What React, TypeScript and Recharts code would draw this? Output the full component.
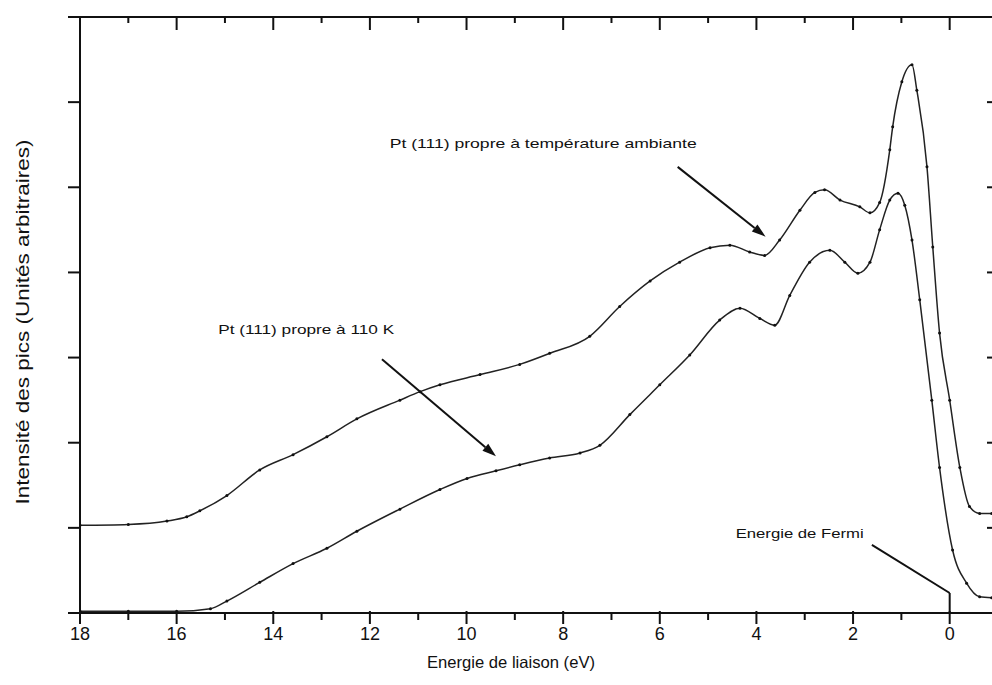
import React from 'react';
import { LineChart, Line, XAxis, YAxis, ReferenceLine, ReferenceDot } from 'recharts';

// Pt(111) clean, room temperature (upper curve)
const energyRT = [18, 17, 16.2, 15.79, 15.52, 14.96, 14.28, 13.59, 12.89, 12.27, 11.38, 10.96, 10.55, 9.72, 8.9, 8.28, 7.45, 6.83, 6.2, 5.59, 4.96, 4.55, 4.14, 3.83, 3.52, 3.1, 2.79, 2.59, 2.27, 1.86, 1.65, 1.45, 1.24, 1.18, 0.99, 0.78, 0.68, 0.47, 0.35, 0.21, 0.0, -0.21, -0.41, -0.62, -0.87];
const intensityRT = [1.03, 1.04, 1.08, 1.13, 1.2, 1.38, 1.68, 1.86, 2.07, 2.28, 2.5, 2.6, 2.68, 2.8, 2.92, 3.05, 3.25, 3.6, 3.9, 4.12, 4.29, 4.32, 4.24, 4.2, 4.38, 4.73, 4.94, 4.97, 4.85, 4.77, 4.7, 4.82, 5.44, 5.71, 6.24, 6.44, 6.14, 5.24, 4.3, 3.29, 2.5, 1.71, 1.25, 1.17, 1.17];

// Pt(111) clean, 110 K (lower curve)
const energyLT = [18, 17, 16, 15.3, 14.96, 14.28, 13.59, 12.89, 12.27, 11.38, 10.55, 9.99, 9.39, 8.9, 8.28, 7.65, 7.24, 6.62, 6.0, 5.38, 4.76, 4.34, 3.93, 3.62, 3.31, 2.9, 2.48, 2.17, 1.9, 1.65, 1.45, 1.24, 1.07, 0.93, 0.78, 0.62, 0.37, 0.21, -0.06, -0.35, -0.62, -0.87];
const intensityLT = [0.02, 0.02, 0.02, 0.05, 0.14, 0.36, 0.58, 0.76, 0.96, 1.22, 1.45, 1.58, 1.67, 1.74, 1.82, 1.88, 1.97, 2.33, 2.68, 3.03, 3.44, 3.58, 3.46, 3.38, 3.73, 4.12, 4.26, 4.12, 3.99, 4.12, 4.5, 4.85, 4.93, 4.79, 4.38, 3.68, 2.5, 1.71, 0.74, 0.35, 0.19, 0.18];

const xTicks = [18, 17, 16, 15, 14, 13, 12, 11, 10, 9, 8, 7, 6, 5, 4, 3, 2, 1, 0];
const yTicks = [0, 1, 2, 3, 4, 5, 6, 7];

const rtData = energyRT.map((e, i) => ({ e, v: intensityRT[i] }));
const ltData = energyLT.map((e, i) => ({ e, v: intensityLT[i] }));

const FONT = '"Liberation Sans", Arial, sans-serif';
const INK = '#111';

// annotation arrows, in data coordinates (energy, intensity)
const arrows = [
  { from: { x: 5.63, y: 5.24 }, to: { x: 3.81, y: 4.42 } },
  { from: { x: 11.75, y: 2.98 }, to: { x: 9.39, y: 1.84 } },
];
const fermiPath = [
  { from: { x: 1.61, y: 0.8 }, to: { x: 0, y: 0.235 } },
  { from: { x: 0, y: 0.235 }, to: { x: 0, y: 0 } },
];
const notes = [
  { x: 11.59, y: 5.46, text: 'Pt (111) propre à température ambiante', len: 307 },
  { x: 15.14, y: 3.28, text: 'Pt (111) propre à 110 K', len: 176 },
  { x: 4.43, y: 0.88, text: 'Energie de Fermi', len: 128 },
];

const ArrowShape = (props: any) => {
  const { x1, y1, x2, y2 } = props;
  const ang = Math.atan2(y2 - y1, x2 - x1);
  const len = 14;
  const w = 4.5;
  const bx = x2 - len * Math.cos(ang);
  const by = y2 - len * Math.sin(ang);
  const p1 = `${bx + w * Math.sin(ang)},${by - w * Math.cos(ang)}`;
  const p2 = `${bx - w * Math.sin(ang)},${by + w * Math.cos(ang)}`;
  return (
    <g>
      <line x1={x1} y1={y1} x2={bx} y2={by} stroke={INK} strokeWidth={2} />
      <polygon points={`${x2},${y2} ${p1} ${p2}`} fill={INK} />
    </g>
  );
};

const PlainLine = (props: any) => (
  <line x1={props.x1} y1={props.y1} x2={props.x2} y2={props.y2} stroke={INK} strokeWidth={2} />
);

const BottomTick = (props: any) => {
  const { x, y, payload } = props;
  const major = payload.value % 2 === 0;
  return (
    <g>
      <line x1={x} y1={y - (major ? 2 : 0)} x2={x} y2={y + (major ? 11 : 7)} stroke={INK} strokeWidth={2} />
      {major && (
        <text x={x} y={y + 27} textAnchor="middle" fontSize={18} fontFamily={FONT} fill={INK}>
          {payload.value}
        </text>
      )}
    </g>
  );
};

const TopTick = (props: any) => {
  const { x, y, payload } = props;
  const major = payload.value % 2 === 0;
  return <line x1={x} y1={y} x2={x} y2={y + (major ? 13 : 6)} stroke={INK} strokeWidth={2} />;
};

const LeftTick = (props: any) => {
  const { x, y } = props;
  return <line x1={x - 12} y1={y} x2={x} y2={y} stroke={INK} strokeWidth={2} />;
};

const RightTick = (props: any) => {
  const { x, y } = props;
  return <line x1={x - 11} y1={y} x2={x} y2={y} stroke={INK} strokeWidth={2} />;
};

export default function App() {
  return (
    <div
      style={{
        position: 'absolute',
        left: 0,
        top: 0,
        width: 992,
        height: 685,
        overflow: 'hidden',
        background: '#fff',
      }}
    >
      <LineChart width={1008} height={685} margin={{ top: 0, right: 0, bottom: 0, left: 20 }}>
        <XAxis
          dataKey="e"
          type="number"
          domain={[-1, 18]}
          reversed
          allowDataOverflow
          ticks={xTicks}
          interval={0}
          height={72}
          tickSize={0}
          tickMargin={0}
          tickLine={false}
          tick={<BottomTick />}
          axisLine={{ stroke: INK, strokeWidth: 2 }}
        />
        <XAxis
          xAxisId="top"
          orientation="top"
          dataKey="e"
          type="number"
          domain={[-1, 18]}
          reversed
          allowDataOverflow
          ticks={xTicks}
          interval={0}
          height={17}
          tickSize={0}
          tickMargin={0}
          tickLine={false}
          tick={<TopTick />}
          axisLine={{ stroke: INK, strokeWidth: 2 }}
        />
        <YAxis
          type="number"
          domain={[0, 7]}
          allowDataOverflow
          ticks={yTicks}
          interval={0}
          width={60}
          tickSize={0}
          tickMargin={0}
          tickLine={false}
          tick={<LeftTick />}
          axisLine={{ stroke: INK, strokeWidth: 2 }}
        />
        <YAxis
          yAxisId="right"
          orientation="right"
          type="number"
          domain={[0, 7]}
          allowDataOverflow
          ticks={yTicks.slice(1, 7)}
          interval={0}
          width={10}
          tickSize={0}
          tickMargin={0}
          tickLine={false}
          tick={<RightTick />}
          axisLine={{ stroke: INK, strokeWidth: 2 }}
        />

        <Line
          data={rtData}
          dataKey="v"
          type="monotone"
          stroke="#222"
          strokeWidth={1.5}
          dot={{ r: 1.5, fill: INK, stroke: 'none' }}
          isAnimationActive={false}
        />
        <Line
          data={ltData}
          dataKey="v"
          type="monotone"
          stroke="#222"
          strokeWidth={1.5}
          dot={{ r: 1.5, fill: INK, stroke: 'none' }}
          isAnimationActive={false}
        />

        {arrows.map((a, i) => (
          <ReferenceLine
            key={`arrow-${i}`}
            segment={[a.from, a.to]}
            ifOverflow="visible"
            shape={ArrowShape}
          />
        ))}
        {fermiPath.map((s, i) => (
          <ReferenceLine
            key={`fermi-${i}`}
            segment={[s.from, s.to]}
            ifOverflow="visible"
            shape={PlainLine}
          />
        ))}
        {notes.map((n, i) => (
          <ReferenceDot
            key={`note-${i}`}
            x={n.x}
            y={n.y}
            r={0}
            ifOverflow="visible"
            shape={(p: any) => (
              <text
                x={p.cx}
                y={p.cy}
                fontSize={13}
                fontFamily={FONT}
                fill={INK}
                textLength={n.len}
                lengthAdjust="spacingAndGlyphs"
              >
                {n.text}
              </text>
            )}
          />
        ))}

        <text
          x={511}
          y={668}
          textAnchor="middle"
          fontSize={16.5}
          fontFamily={FONT}
          fill={INK}
          textLength={168}
          lengthAdjust="spacingAndGlyphs"
        >
          Energie de liaison (eV)
        </text>
        <text
          transform="rotate(-90)"
          x={-322}
          y={29}
          textAnchor="middle"
          fontSize={19}
          fontFamily={FONT}
          fill={INK}
          textLength={365}
          lengthAdjust="spacingAndGlyphs"
        >
          Intensité des pics (Unités arbitraires)
        </text>
      </LineChart>
    </div>
  );
}
